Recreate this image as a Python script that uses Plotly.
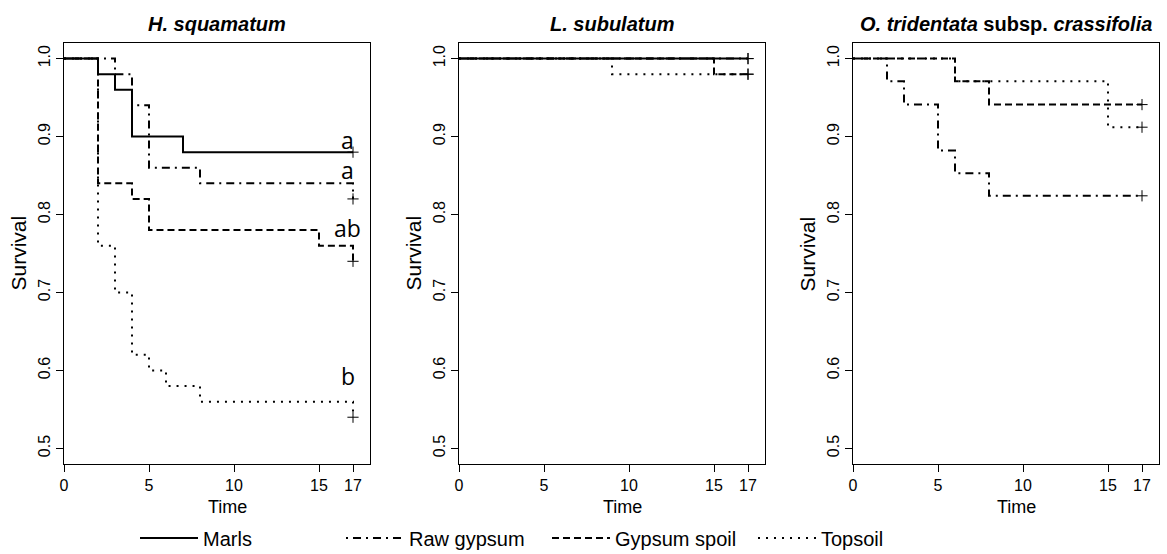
import plotly.graph_objects as go

# ---------------- data ----------------
SERIES = ["Marls", "Raw gypsum", "Gypsum spoil", "Topsoil"]
PANEL_TITLES = ["<b><i>H. squamatum</i></b>",
                "<b><i>L. subulatum</i></b>",
                "<b><i>O. tridentata</i> subsp. <i>crassifolia</i></b>"]
X_TICKS = [0, 5, 10, 15, 17]
Y_TICKS = [0.5, 0.6, 0.7, 0.8, 0.9, 1.0]
Y_TICKTEXT = ["0.5", "0.6", "0.7", "0.8", "0.9", "1.0"]

# H. squamatum
H_MARLS_T = [0, 2, 3, 4, 7, 17]
H_MARLS_S = [1.0, 0.98, 0.96, 0.90, 0.88, 0.88]
H_RAW_T = [0, 3, 4, 5, 8, 17]
H_RAW_S = [1.0, 0.98, 0.94, 0.86, 0.84, 0.82]
H_SPOIL_T = [0, 2, 4, 5, 15, 17]
H_SPOIL_S = [1.0, 0.84, 0.82, 0.78, 0.76, 0.74]
H_TOP_T = [0, 2, 3, 4, 5, 6, 8, 17]
H_TOP_S = [1.0, 0.76, 0.70, 0.62, 0.60, 0.58, 0.56, 0.54]
H_LETTERS = ["a", "a", "ab", "b"]
H_LETTER_Y = [0.896, 0.857, 0.783, 0.593]

# L. subulatum
L_MARLS_T = [0, 17]
L_MARLS_S = [1.0, 1.0]
L_RAW_T = [0, 17]
L_RAW_S = [1.0, 1.0]
L_SPOIL_T = [0, 15, 17]
L_SPOIL_S = [1.0, 0.98, 0.98]
L_TOP_T = [0, 9, 17]
L_TOP_S = [1.0, 0.98, 0.98]

# O. tridentata subsp. crassifolia (no Marls)
O_RAW_T = [0, 2, 3, 5, 6, 8, 17]
O_RAW_S = [1.0, 0.971, 0.941, 0.882, 0.853, 0.824, 0.824]
O_SPOIL_T = [0, 6, 8, 17]
O_SPOIL_S = [1.0, 0.971, 0.941, 0.941]
O_TOP_T = [0, 6, 15, 17]
O_TOP_S = [1.0, 0.971, 0.912, 0.912]

PANELS = [
    {"Marls": (H_MARLS_T, H_MARLS_S), "Raw gypsum": (H_RAW_T, H_RAW_S),
     "Gypsum spoil": (H_SPOIL_T, H_SPOIL_S), "Topsoil": (H_TOP_T, H_TOP_S)},
    {"Marls": (L_MARLS_T, L_MARLS_S), "Raw gypsum": (L_RAW_T, L_RAW_S),
     "Gypsum spoil": (L_SPOIL_T, L_SPOIL_S), "Topsoil": (L_TOP_T, L_TOP_S)},
    {"Raw gypsum": (O_RAW_T, O_RAW_S),
     "Gypsum spoil": (O_SPOIL_T, O_SPOIL_S), "Topsoil": (O_TOP_T, O_TOP_S)},
]

# ---------------- style ----------------
W, H = 1167, 554
DASH = {"Marls": "solid", "Raw gypsum": "2px,5px,8px,5px",
        "Gypsum spoil": "7px,4px", "Topsoil": "2px,6px"}
PX_LEFT = [64, 459, 853]
PX_RIGHT = [370, 765, 1159]
PX_TOP, PX_BOT = 43, 464
FONT = "Liberation Sans, Arial, sans-serif"

fig = go.Figure()

for p, panel in enumerate(PANELS):
    xa = "x" if p == 0 else f"x{p+1}"
    ya = "y" if p == 0 else f"y{p+1}"
    for name in SERIES:
        if name not in panel:
            continue
        t, s = panel[name]
        fig.add_trace(go.Scatter(
            x=t, y=s, mode="lines", line_shape="hv",
            line=dict(color="black", width=2, dash=DASH[name]),
            name=name, showlegend=(p == 0), legendrank=SERIES.index(name),
            xaxis=xa, yaxis=ya, hoverinfo="skip"))
        fig.add_trace(go.Scatter(
            x=[t[-1]], y=[s[-1]], mode="markers",
            marker=dict(symbol="cross-thin", size=8, color="black",
                        line=dict(color="black", width=1)),
            showlegend=False, xaxis=xa, yaxis=ya, hoverinfo="skip"))

layout = dict(
    width=W, height=H, margin=dict(l=0, r=0, t=0, b=0, autoexpand=False),
    paper_bgcolor="white", plot_bgcolor="white",
    font=dict(family=FONT, color="black", size=16),
    showlegend=True,
    legend=dict(orientation="h", x=135 / W, y=1 - 538 / H, xanchor="left",
                yanchor="middle", font=dict(size=20, family=FONT),
                entrywidth=133, entrywidthmode="pixels",
                bgcolor="rgba(0,0,0,0)", itemwidth=58),
)
ydom = [1 - PX_BOT / H, 1 - PX_TOP / H]
for p in range(3):
    xk = "xaxis" if p == 0 else f"xaxis{p+1}"
    yk = "yaxis" if p == 0 else f"yaxis{p+1}"
    layout[xk] = dict(domain=[PX_LEFT[p] / W, PX_RIGHT[p] / W], range=[0, 18],
                      tickvals=X_TICKS, ticks="outside", ticklen=7, tickwidth=1,
                      tickcolor="black", showline=True, linecolor="black",
                      linewidth=1, mirror=True, showgrid=False, zeroline=False,
                      anchor="y" if p == 0 else f"y{p+1}",
                      tickfont=dict(size=16, family=FONT))
    layout[yk] = dict(domain=ydom, range=[0.48, 1.02],
                      tickvals=Y_TICKS, ticktext=Y_TICKTEXT, tickangle=-90,
                      ticks="outside", ticklen=7, tickwidth=1, tickcolor="black",
                      showline=True, linecolor="black", linewidth=1, mirror=True,
                      showgrid=False, zeroline=False,
                      anchor="x" if p == 0 else f"x{p+1}",
                      tickfont=dict(size=16, family=FONT))
fig.update_layout(**layout)

ann = []
for p in range(3):
    cx = (PX_LEFT[p] + PX_RIGHT[p]) / 2
    ann.append(dict(text=PANEL_TITLES[p], x=cx / W, y=1 - 24 / H,
                    xref="paper", yref="paper", showarrow=False,
                    xanchor="center", yanchor="middle",
                    font=dict(size=20, family=FONT)))
    ann.append(dict(text="Time", x=(cx + 10) / W, y=1 - 507 / H,
                    xref="paper", yref="paper", showarrow=False,
                    xanchor="center", yanchor="middle",
                    font=dict(size=18, family=FONT)))
    ann.append(dict(text="Survival", x=(PX_LEFT[p] - 46) / W,
                    y=1 - ((PX_TOP + PX_BOT) / 2) / H, textangle=-90,
                    xref="paper", yref="paper", showarrow=False,
                    xanchor="center", yanchor="middle",
                    font=dict(size=21, family=FONT)))
for letter, ly in zip(H_LETTERS, H_LETTER_Y):
    ann.append(dict(text=letter, x=16.7, y=ly, xref="x", yref="y",
                    showarrow=False, xanchor="center", yanchor="middle",
                    font=dict(size=23, family="Open Sans, DejaVu Sans, sans-serif")))
fig.update_layout(annotations=ann)

fig.write_html("out.html", config={"displayModeBar": False},
               post_script="document.body.style.margin='0';"
                           "document.body.style.overflow='hidden';")
